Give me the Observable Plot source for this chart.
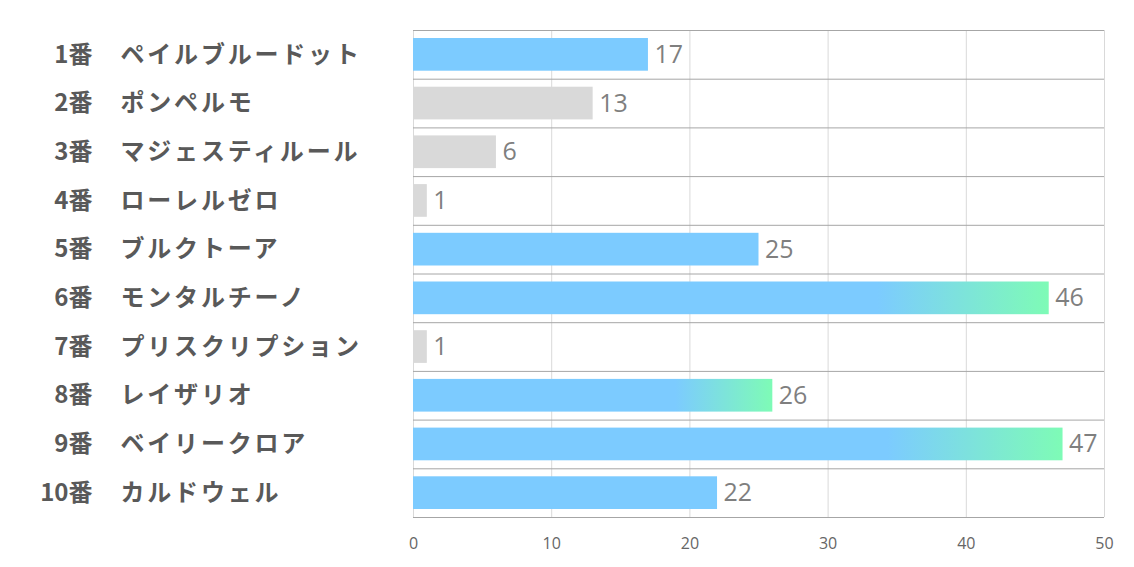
<!DOCTYPE html>
<html>
<head>
<meta charset="utf-8">
<script src="https://cdn.jsdelivr.net/npm/d3@7"></script>
<script src="https://cdn.jsdelivr.net/npm/@observablehq/plot@0.6"></script>
<style>
  html, body { margin: 0; padding: 0; background: #ffffff; }
  #chart { width: 1134px; height: 567px; }
</style>
</head>
<body>
<div id="chart"></div>
<script>
// ---- data ----
const numbers = ["1番", "2番", "3番", "4番", "5番", "6番", "7番", "8番", "9番", "10番"];
const names = ["ペイルブルードット", "ポンペルモ", "マジェスティルール", "ローレルゼロ", "ブルクトーア",
               "モンタルチーノ", "プリスクリプション", "レイザリオ", "ベイリークロア", "カルドウェル"];
const values = [17, 13, 6, 1, 25, 46, 1, 26, 47, 22];
const tiers = ["mid", "low", "low", "low", "mid", "high", "low", "high", "high", "mid"];
const xTicks = [0, 10, 20, 30, 40, 50];

const rows = names.map((name, i) => ({i, num: numbers[i], name, value: values[i], tier: tiers[i]}));

const numFont = "'Liberation Sans Narrow', 'Open Sans', sans-serif";
const jpFont = "'Noto Sans CJK JP', sans-serif";
const mid = d => d.i + 0.5;

const barOpts = {x1: 0, x2: "value", y1: "i", y2: d => d.i + 1, insetTop: 8, insetBottom: 8};

const chart = Plot.plot({
  width: 1134,
  height: 567,
  marginLeft: 413,
  marginRight: 30,
  marginTop: 30,
  marginBottom: 50,
  style: {fontFamily: numFont, background: "#ffffff"},
  x: {domain: [0, 50]},
  y: {domain: [0, names.length], reverse: true, axis: null},
  marks: [
    Plot.gridX(xTicks, {stroke: "#d9d9d9", strokeOpacity: 1}),
    Plot.ruleY(d3.range(names.length + 1), {x1: 0, x2: 50, stroke: "#a6a6a6"}),
    Plot.rect(rows.filter(d => d.tier === "low"), {...barOpts, fill: "#d9d9d9"}),
    Plot.rect(rows.filter(d => d.tier === "mid"), {...barOpts, fill: "#7ccbff"}),
    Plot.rect(rows.filter(d => d.tier === "high"), {...barOpts, fill: "url(#hotGrad)"}),
    Plot.text(rows, {x: "value", y: mid, text: d => String(d.value), dx: 6, textAnchor: "start",
      fill: "#7f7f7f", fontSize: 25, fontFamily: numFont}),
    Plot.text(rows, {x: 0, y: mid, text: "num", dx: -321, textAnchor: "end",
      fill: "#595959", fontSize: 24, fontWeight: "bold", fontFamily: jpFont}),
    Plot.text(rows, {x: 0, y: mid, text: "name", dx: -293, textAnchor: "start",
      fill: "#595959", fontSize: 24, fontWeight: "bold", fontFamily: jpFont}),
    Plot.axisX({ticks: xTicks, tickSize: 0, tickPadding: 20, fontSize: 16, color: "#666666", label: null})
  ]
});

const svg = d3.select(chart);
const defs = svg.insert("defs", ":first-child");
const grad = defs.append("linearGradient").attr("id", "hotGrad").attr("x1", 0).attr("x2", 1).attr("y1", 0).attr("y2", 0);
grad.append("stop").attr("offset", "0").attr("stop-color", "#7ccbff");
grad.append("stop").attr("offset", "0.73").attr("stop-color", "#7ccbff");
grad.append("stop").attr("offset", "1").attr("stop-color", "#7efbb6");
// widen the katakana names like the reference's spacing
svg.selectAll("text").filter(function() { return names.includes(this.textContent); })
  .style("letter-spacing", "2.8px");

document.getElementById("chart").appendChild(chart);
</script>
</body>
</html>
